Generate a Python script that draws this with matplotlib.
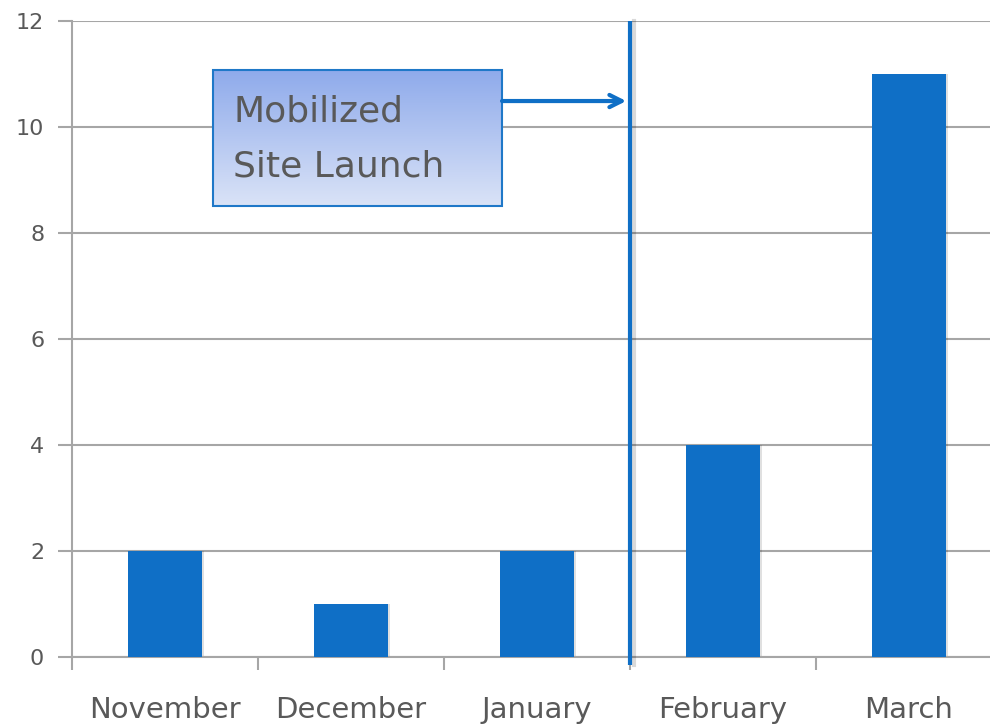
import numpy as np
import matplotlib.pyplot as plt

months = ["November", "December", "January", "February", "March"]
counts = [2, 1, 2, 4, 11]
launch_pos = 2.5  # between January and February

bar_color = "#0F6FC6"
grid_color = "#A6A6A6"
text_color = "#595959"

plt.rcParams['font.family'] = ['DejaVu Sans']

fig = plt.figure(figsize=(9.9, 7.26), dpi=100)
ax = fig.add_axes([72 / 990, 69 / 726, 930 / 990, 636 / 726])

x = np.arange(len(months))
# soft shadow under bars
ax.bar(x + 0.012, counts, width=0.4, color="#000000", alpha=0.12, zorder=2)
ax.bar(x, counts, width=0.4, color=bar_color, zorder=3)

ax.set_xlim(-0.5, len(months) - 0.5)
ax.set_ylim(0, 12)
ax.set_yticks(range(0, 13, 2))
ax.yaxis.grid(True, color=grid_color, linewidth=1.5, zorder=0)
ax.set_axisbelow(True)

ax.set_xticks(np.arange(-0.5, len(months) - 0.5, 1.0))
ax.set_xticks(x, minor=True)
ax.set_xticklabels([])
ax.set_xticklabels(months, minor=True)
ax.tick_params(axis='x', which='major', length=9, width=1.5, color=grid_color)
ax.tick_params(axis='x', which='minor', length=0, pad=28, labelsize=21, labelcolor=text_color)
ax.tick_params(axis='y', length=10, width=1.5, color=grid_color, labelsize=16, labelcolor=text_color, pad=10)

for s in ["top", "right"]:
    ax.spines[s].set_visible(False)
for s in ["left", "bottom"]:
    ax.spines[s].set_color(grid_color)
    ax.spines[s].set_linewidth(1.5)

# launch marker line
ax.plot([launch_pos + 0.02, launch_pos + 0.02], [-0.15, 12], color="#000000", alpha=0.15,
        linewidth=3, clip_on=False, zorder=4)
ax.plot([launch_pos, launch_pos], [-0.15, 12], color=bar_color, linewidth=3,
        clip_on=False, zorder=5, solid_capstyle='butt')

# gradient annotation box
bx0, bx1, by0, by1 = 0.258, 1.812, 8.51, 11.08
grad = np.linspace(0, 1, 256).reshape(-1, 1)
top = np.array([0x8E, 0xAA, 0xEB]) / 255
bot = np.array([0xDA, 0xE3, 0xF7]) / 255
img = top + (bot - top) * grad[:, :, None]
ax.imshow(img, extent=[bx0, bx1, by0, by1], origin='upper', aspect='auto', zorder=6)
ax.add_patch(plt.Rectangle((bx0, by0), bx1 - bx0, by1 - by0, fill=False,
                           edgecolor="#1F78C8", linewidth=1.5, zorder=7))
ax.text(bx0 + 0.11, (by0 + by1) / 2 - 0.02, "Mobilized\nSite Launch", fontsize=26,
        color=text_color, va='center', ha='left', linespacing=1.75, zorder=8)
ax.set_xlim(-0.5, len(months) - 0.5)
ax.set_ylim(0, 12)

ax.annotate("", xy=(launch_pos - 0.02, 10.49), xytext=(bx1, 10.49),
            arrowprops=dict(arrowstyle="->", color=bar_color, lw=3,
                            mutation_scale=22, shrinkA=0, shrinkB=0), zorder=8)

fig.savefig("out.png", dpi=100)
